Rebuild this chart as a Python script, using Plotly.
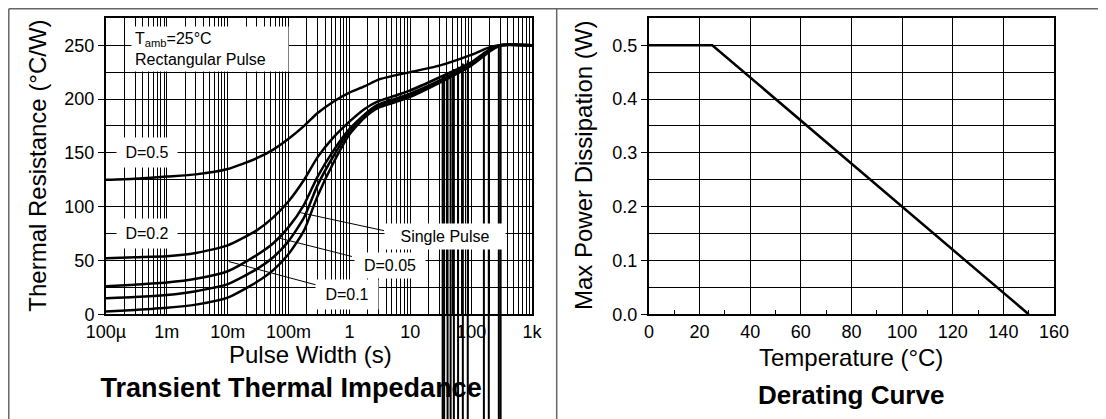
import numpy as np
import plotly.graph_objects as go

# The page body adds an 8 px margin, so the figure is drawn at (8, 8) of the window.
OFF = 8
W, H = 1106 - OFF, 419 - OFF
FONT = "Liberation Sans, Arial, Helvetica, sans-serif"

# ---------------- data: transient thermal impedance ----------------
pulse_width = [1e-4, 3e-4, 1e-3, 3e-3, 1e-2, 3e-2, 5.6e-2, 0.1, 0.18, 0.3, 0.56,
               1, 1.8, 3, 5.6, 10, 30, 100, 200, 300, 1000]
z_d05 = [125, 126, 128, 130, 135, 145, 153, 163, 175, 187, 198,
         206, 212, 218, 222, 225, 231, 241, 248, 250, 250]
z_d02 = [52, 53, 54, 57, 64, 78, 90, 105, 125, 146, 165,
         179, 191, 198, 203, 208, 220, 234, 246, 250, 250]
z_d01 = [26, 27.5, 29.5, 33, 40, 55, 66, 81, 102, 128, 153,
         172, 186, 195, 200, 205, 217, 233, 245, 250, 250]
z_d005 = [15, 16, 18, 21.5, 28, 42, 53, 68, 90, 120, 148,
          170, 185, 194, 199, 204, 216, 232, 245, 250, 250]
z_single = [2.5, 4, 6, 9, 15.5, 30, 41, 56, 78, 110, 142,
            167, 183, 192, 197, 202, 215, 231, 244, 250, 250]
curves = [z_d05, z_d02, z_d01, z_d005, z_single]

# vertical drop-out lines seen in the source image
spike_x = [34, 36, 41, 46, 52, 61, 73, 88, 162, 195, 285, 305]
spike_top = [222, 222, 224, 226, 228, 230, 233, 236, 244, 246, 249, 249]

# leader lines (start at label, end at curve bundle)
leader_single = ([3.7, 0.155], [77.7, 94.5])
leader_d005 = ([1.10, 0.069], [53.7, 70.9])
leader_d01 = ([0.284, 0.0104], [27.3, 49.0])

x_tick_vals = [1e-4, 1e-3, 1e-2, 1e-1, 1, 10, 100, 1000]
x_tick_text = ["100µ", "1m", "10m", "100m", "1", "10", "100", "1k"]
y_tick_vals = [0, 50, 100, 150, 200, 250]

# ---------------- data: derating curve ----------------
temperature = [0, 25, 150]
max_power = [0.5, 0.5, 0.0]

# ---------------- layout geometry (window pixels -> paper) ----------------
def px(x):
    return (x - OFF) / W

def py(y):
    return 1 - (y - OFF) / H

L1, R1 = px(106), px(532)
L2, R2 = px(649), px(1054)
B, T = py(314.3), py(18.3)

fig = go.Figure()

for z in curves:
    fig.add_trace(go.Scatter(x=pulse_width, y=z, mode="lines",
                             line=dict(color="black", width=2.5, shape="spline", smoothing=0.6),
                             xaxis="x", yaxis="y", hoverinfo="skip"))

for lx, ly in (leader_single, leader_d005, leader_d01):
    fig.add_trace(go.Scatter(x=lx, y=ly, mode="lines", line=dict(color="black", width=1),
                             xaxis="x", yaxis="y", hoverinfo="skip"))

sx, sy = [], []
for xv, tv in zip(spike_x, spike_top):
    sx += [xv, xv, None]
    sy += [tv, -20, None]
fig.add_trace(go.Scatter(x=sx, y=sy, mode="lines", line=dict(color="black", width=2),
                         xaxis="x", yaxis="y", hoverinfo="skip"))

# bottom strip below left chart: title + continuation of drop-out lines
fig.add_trace(go.Scatter(x=[0.11], y=[0.27], mode="text", text=["Transient Thermal Impedance"],
                         textfont=dict(family=FONT, size=27, color="black", weight="bold"),
                         cliponaxis=False, xaxis="x3", yaxis="y3", hoverinfo="skip"))
bx, by = [], []
for xv in spike_x:
    bx += [xv, xv, None]
    by += [1.1, -0.1, None]
fig.add_trace(go.Scatter(x=bx, y=by, mode="lines", line=dict(color="black", width=2),
                         xaxis="x3", yaxis="y3", hoverinfo="skip"))

# derating curve
fig.add_trace(go.Scatter(x=temperature, y=max_power, mode="lines",
                         line=dict(color="black", width=2.5),
                         xaxis="x2", yaxis="y2", hoverinfo="skip"))

# log-x grid: every 1..9 multiple
grid_vals, grid_text = [], []
for dec in range(-4, 3):
    for m in range(1, 10):
        v = m * 10.0 ** dec
        grid_vals.append(v)
        grid_text.append(x_tick_text[x_tick_vals.index(v)] if m == 1 else "")
grid_vals.append(1000.0)
grid_text.append("1k")

tickfont = dict(family=FONT, size=18, color="black")

fig.update_layout(
    width=W, height=H, margin=dict(l=0, r=0, t=0, b=0, autoexpand=False),
    paper_bgcolor="white", plot_bgcolor="white", showlegend=False,
    font=dict(family=FONT, color="black"),
    xaxis=dict(type="log", range=[-4, 3], domain=[L1, R1], anchor="y", automargin=False,
               tickvals=grid_vals, ticktext=grid_text, ticks="",
               showgrid=True, gridcolor="black", gridwidth=1,
               showline=True, linecolor="black", linewidth=2, mirror=True,
               zeroline=False, tickfont=tickfont),
    yaxis=dict(range=[0, 275], domain=[B, T], anchor="x", automargin=False,
               tickvals=y_tick_vals, ticks="outside", ticklen=6, tickcolor="black",
               showgrid=True, gridcolor="black", gridwidth=1,
               minor=dict(dtick=25, showgrid=True, gridcolor="black", gridwidth=1, ticks=""),
               showline=True, linecolor="black", linewidth=2, mirror=True,
               zeroline=False, tickfont=tickfont),
    xaxis2=dict(range=[0, 160], domain=[L2, R2], anchor="y2", dtick=20, ticks="", automargin=False,
                showgrid=True, gridcolor="black", gridwidth=1,
                minor=dict(dtick=10, ticks="inside", ticklen=4, tickcolor="black", showgrid=False),
                showline=True, linecolor="black", linewidth=2, mirror=True,
                zeroline=False, tickfont=tickfont),
    yaxis2=dict(range=[0, 0.55], domain=[B, T], anchor="x2", dtick=0.1, tickformat=".1f",
                ticks="outside", ticklen=6, tickcolor="black", automargin=False,
                showgrid=True, gridcolor="black", gridwidth=1,
                minor=dict(dtick=0.05, showgrid=True, gridcolor="black", gridwidth=1, ticks=""),
                showline=True, linecolor="black", linewidth=2, mirror=True,
                zeroline=False, tickfont=tickfont),
    xaxis3=dict(type="log", range=[-4, 3], domain=[L1, R1], anchor="y3", visible=False, automargin=False),
    yaxis3=dict(range=[0, 1], domain=[0, B], anchor="x3", visible=False, automargin=False),
)

lab = dict(family=FONT, size=16, color="black")
def label(x, y, text, width, pad):
    fig.add_annotation(x=np.log10(x), y=y, xref="x", yref="y", text=text, showarrow=False,
                       xanchor="center", yanchor="middle",
                       font=lab, bgcolor="white", width=width, borderpad=pad)

label(4.7e-4, 150, "D=0.5", 48, 6)
label(4.7e-4, 75, "D=0.2", 48, 6)
label(37.7, 72, "Single Pulse", 112, 4)
label(4.7, 45, "D=0.05", 62, 4)
label(0.91, 18, "D=0.1", 50, 6)
fig.add_annotation(x=np.log10(2.6e-4), y=268, xref="x", yref="y", xanchor="left", yanchor="top",
                   text="T<sub>amb</sub>=25°C<br>Rectangular Pulse", align="left",
                   showarrow=False, font=lab, bgcolor="white", width=150, borderpad=3)

# axis titles and chart titles
atf = dict(family=FONT, size=24, color="black")
def ptext(x, y, text, font, angle=0):
    fig.add_annotation(x=px(x), y=py(y), xref="paper", yref="paper", text=text,
                       xanchor="center", yanchor="middle", showarrow=False,
                       font=font, textangle=angle)

ptext(311, 354, "Pulse Width (s)", atf)
ptext(36.7, 166, "Thermal Resistance (°C/W)", atf, -90)
ptext(851, 357, "Temperature (°C)", atf)
ptext(583, 166, "Max Power Dissipation (W)", atf, -90)
ptext(851, 395, "<b>Derating Curve</b>", dict(family=FONT, size=26, color="black"))

# frame lines
frame = dict(color="#666666", width=1.5)
fy = py(OFF + 0.8)
fig.add_shape(type="line", xref="paper", yref="paper", x0=px(OFF + 0.8), x1=1, y0=fy, y1=fy, line=frame)
fig.add_shape(type="line", xref="paper", yref="paper", x0=px(OFF + 0.8), x1=px(OFF + 0.8), y0=0, y1=fy, line=frame)
fig.add_shape(type="line", xref="paper", yref="paper", x0=px(556.7), x1=px(556.7), y0=0, y1=fy, line=frame)

fig.write_html("out.html")
